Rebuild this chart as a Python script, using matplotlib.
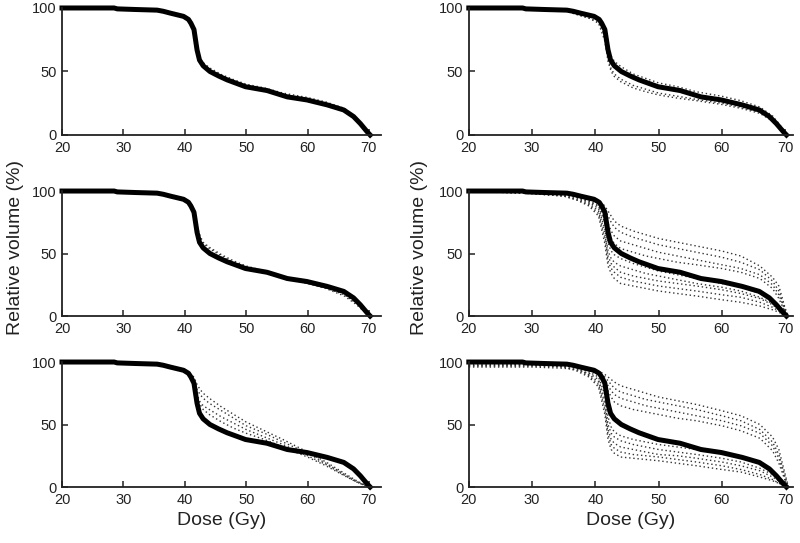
import matplotlib.pyplot as plt

plt.rcParams['font.family'] = ['Liberation Sans', 'DejaVu Sans']

# reference DVH (thick curve): dose (Gy) and relative volume (%)
main_dose = [20, 28.5, 29, 32, 35.5, 36.5, 37.6, 39.8, 40.6, 41.0, 41.5, 42.0,
             42.4, 43.0, 44.1, 45.5, 46.9, 49.9, 53.4, 56.7, 59.9, 63.2, 65.9,
             67.5, 68.6, 69.7, 70.2]
main_vol = [100, 100, 99.3, 98.8, 98.3, 97.4, 96, 93.4, 91, 88, 83, 67,
            59, 54.5, 50, 46.5, 43.4, 38, 35, 30, 27.6, 23.7, 19.7,
            14.5, 9, 2.6, 0]

# dose grid (Gy) shared by the dotted curves
dose = [20, 30, 35, 37, 39, 40.5, 41.5, 42, 42.5, 43, 44, 46, 48, 50,
        53, 56, 60, 63, 66, 68, 69, 70, 70.5]

# panel a (top left)
dots_a = [
    [100, 99.5, 98.5, 96, 94, 91.5, 84, 69, 60, 57, 53, 47.5, 43.5, 40, 37, 33, 29.5, 26, 21, 13, 8, 2, 0],
    [100, 99.5, 98.5, 96, 94, 91.5, 83.5, 68, 59, 56, 52, 46.5, 42.5, 39, 36, 32, 28.5, 25, 20.5, 12.5, 7.5, 1.5, 0],
]
# panel b (top right)
dots_b = [
    [100, 99.5, 98.5, 96, 94, 91.5, 84, 70, 62, 58, 54, 48, 44.5, 41, 38, 34, 30.5, 27, 22, 15, 9, 2, 0],
    [100, 99.5, 98, 95, 92, 88, 74, 58, 50, 46, 42, 37, 34, 31.5, 29, 27, 24, 21, 17, 11, 6, 1, 0],
    [100, 99.5, 98, 95, 92, 89, 78, 60, 52, 48, 44, 39, 36, 33, 30.5, 28, 25, 22, 18, 12, 7, 1.5, 0],
]
# panel c (middle left)
dots_c = [
    [100, 99.5, 98.5, 96, 94, 91.5, 84, 70, 62, 58, 54, 48, 43, 39.5, 35.5, 31, 26.5, 22.5, 17, 10, 5, 1, 0],
    [100, 99.5, 98.5, 96, 94, 91.5, 84, 68, 60, 56, 52, 47, 42.5, 39, 35, 30.5, 26, 22, 16, 9, 4.5, 1, 0],
    [100, 99.5, 98.5, 96, 94, 91.5, 85, 72, 64, 59, 55, 49, 44, 40, 36, 31.5, 27, 23, 17.5, 10.5, 5.5, 1, 0],
]
# panel d (middle right)
dots_d = [
    [100, 100, 99, 97, 95, 93, 88, 84, 80, 76, 72, 68, 65, 62, 59, 56, 52, 48, 40, 31, 24, 6, 0],
    [100, 99, 98, 96, 94, 92, 86, 80, 75, 71, 67, 63, 60, 57, 54, 51, 47, 43, 37, 28, 20, 5, 0],
    [100, 99, 98, 96, 93, 90, 82, 74, 68, 64, 60, 57, 54, 51, 48, 45, 41, 38, 33, 25, 17, 4, 0],
    [100, 99, 98, 95, 92, 88, 78, 68, 62, 58, 54, 51, 48, 46, 43, 41, 38, 35, 30, 22, 14, 3, 0],
    [100, 99, 97, 95, 92, 88, 74, 58, 52, 49, 46, 42, 39, 36, 33, 30, 26, 23, 18, 12, 7, 2, 0],
    [100, 99, 97, 95, 91, 86, 70, 52, 46, 43, 40, 37, 34, 32, 29, 26, 23, 20, 15, 10, 6, 1, 0],
    [100, 98, 96, 94, 90, 84, 66, 48, 42, 39, 35, 32, 30, 28, 26, 24, 21, 18, 14, 9, 5, 1, 0],
    [100, 98, 96, 93, 89, 82, 62, 44, 38, 35, 31, 28, 26, 24, 22, 20, 17, 15, 11, 7, 4, 1, 0],
    [100, 98, 96, 93, 88, 80, 58, 40, 34, 30, 26, 24, 22, 20, 18, 16, 13, 11, 8, 5, 3, 0.5, 0],
]
# panel e (bottom left)
dots_e = [
    [100, 99.5, 98.5, 96, 94, 92, 88, 82, 78, 75, 71, 64, 58, 52, 45, 38, 28, 20, 11, 5, 2.5, 0.5, 0],
    [100, 99.5, 98.5, 96, 94, 91.5, 86, 78, 74, 71, 67, 61, 55, 49, 43, 36, 27, 19, 10, 4.5, 2, 0.5, 0],
    [100, 99.5, 98.5, 96, 94, 91.5, 85, 74, 68, 65, 62, 56, 51, 46, 40, 34, 25, 18, 9.5, 4, 2, 0.5, 0],
    [100, 99.5, 98.5, 96, 94, 91.5, 84, 72, 66, 62, 58, 52, 47, 43, 38, 32, 24, 17, 9, 4, 2, 0.5, 0],
]
# panel f (bottom right)
dots_f = [
    [97, 97, 97, 96, 95, 93, 90, 88, 86, 84, 81, 78, 75, 72, 69, 66, 61, 57, 50, 40, 30, 10, 0],
    [98, 98, 97, 96, 94, 92, 88, 85, 82, 79, 76, 73, 70, 68, 65, 62, 57, 53, 46, 36, 26, 8, 0],
    [99, 98, 98, 96, 94, 91, 86, 81, 77, 74, 71, 68, 65, 63, 60, 57, 53, 49, 43, 33, 23, 6, 0],
    [100, 99, 98, 96, 93, 90, 84, 77, 72, 68, 65, 62, 60, 58, 55, 53, 49, 45, 39, 29, 19, 5, 0],
    [100, 99, 98, 96, 92, 88, 74, 56, 48, 44, 41, 38, 36, 34, 32, 30, 27, 24, 19, 13, 8, 2, 0],
    [96, 96, 95, 94, 91, 86, 70, 50, 43, 40, 37, 34, 32, 30, 28, 26, 23, 20, 15, 10, 6, 1, 0],
    [100, 99, 97, 95, 90, 84, 66, 46, 38, 35, 32, 30, 28, 26, 25, 23, 20, 17, 13, 8, 5, 1, 0],
    [97, 97, 96, 94, 89, 82, 62, 42, 34, 31, 28, 26, 25, 24, 22, 20, 17, 14, 10, 6, 3, 1, 0],
    [100, 98, 96, 93, 88, 80, 58, 38, 30, 27, 24, 23, 22, 21, 19, 17, 14, 12, 8, 5, 3, 0.5, 0],
]

panels = [dots_a, dots_b, dots_c, dots_d, dots_e, dots_f]
x_ticks = [20, 30, 40, 50, 60, 70]
y_ticks = [0, 50, 100]

fig = plt.figure(figsize=(8, 5.43), dpi=100)

# axes boxes in figure fractions
rows = [(0.7514, 0.2339), (0.418, 0.2302), (0.1031, 0.2302)]
cols = [(0.0775, 0.399, 72.0), (0.586, 0.405, 71.2)]

for i, dots in enumerate(panels):
    r, c = divmod(i, 2)
    bottom, height = rows[r]
    left, width, xmax = cols[c]
    ax = fig.add_axes([left, bottom, width, height])
    for d in dots:
        ax.plot(dose, d, color='#333333', linestyle=(0, (1, 2)), linewidth=1.0,
                clip_on=False)
    ax.plot(main_dose, main_vol, color='black', linewidth=3.6, clip_on=False,
            solid_joinstyle='round')
    ax.set_xlim(20, xmax)
    ax.set_ylim(0, 100)
    ax.set_xticks(x_ticks)
    ax.set_yticks(y_ticks)
    for s in ['top', 'right']:
        ax.spines[s].set_visible(False)
    for s in ['left', 'bottom']:
        ax.spines[s].set_linewidth(1.3)
        ax.spines[s].set_color('#222222')
    ax.tick_params(direction='in', length=4, width=1.1, labelsize=10.5,
                   colors='#222222', pad=4)
    if r == 2:
        ax.set_xlabel('Dose (Gy)', fontsize=14, color='#222222', labelpad=4)

fig.text(0.019, 0.545, 'Relative volume (%)', rotation=90, fontsize=14,
         color='#222222', ha='center', va='center')
fig.text(0.525, 0.545, 'Relative volume (%)', rotation=90, fontsize=14,
         color='#222222', ha='center', va='center')

fig.savefig('out.png', dpi=100)
